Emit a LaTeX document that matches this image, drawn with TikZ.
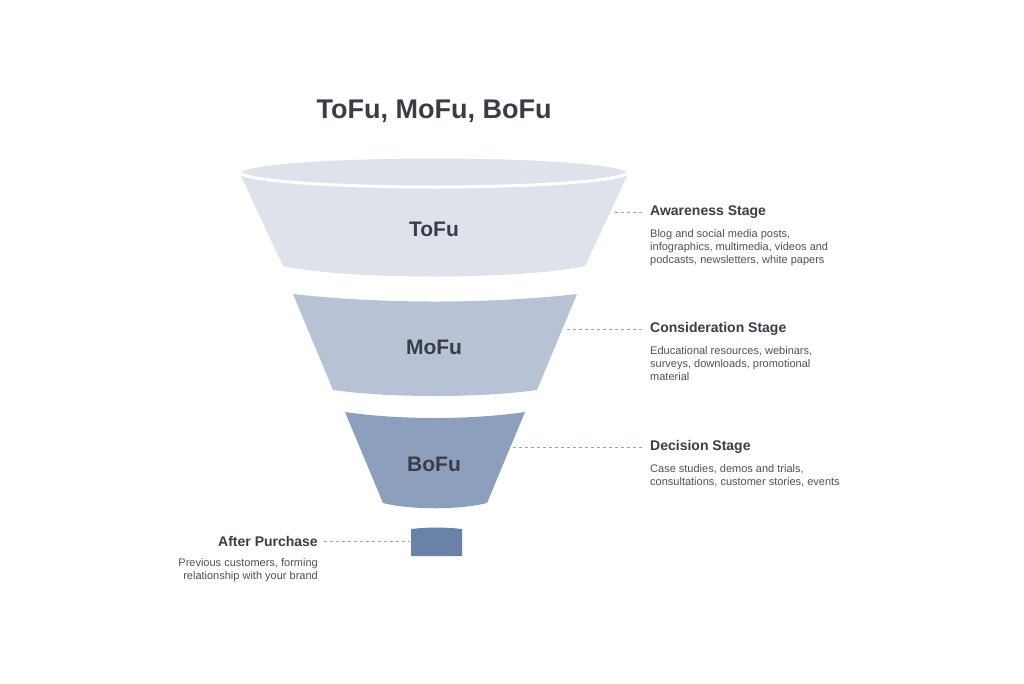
\documentclass[tikz,border=0pt]{standalone}
\usepackage{fontspec}
\setmainfont{Liberation Sans}
\definecolor{tofucol}{HTML}{DDE2EB}
\definecolor{mofucol}{HTML}{B7C3D5}
\definecolor{bofucol}{HTML}{8C9FBD}
\definecolor{aftercol}{HTML}{6B82A8}
\definecolor{inkcol}{HTML}{3A3D48}
\definecolor{dashcol}{HTML}{9AA3B2}
\begin{document}
\begin{tikzpicture}
            [x=1pt,y=-1pt,
             stagename/.style={font=\bfseries\fontsize{14}{16}\selectfont,text=inkcol,anchor=west,inner sep=0pt},
             stagetext/.style={font=\fontsize{11}{13}\selectfont,text=inkcol!90,align=left,anchor=north west,inner sep=0pt},
             layer/.style={font=\bfseries\fontsize{21}{24}\selectfont,text=inkcol},
             link/.style={dashed,dashcol,thick}]
            \useasboundingbox (0,0) rectangle (1024,683);
            % the funnel
            \fill[tofucol] (241,176) -- (627,176) -- (585,266) .. controls (520,280) and (348,280) .. (283,266) -- cycle;
            \fill[tofucol,draw=white,line width=3pt] (434,172) ellipse [x radius=194, y radius=15];
            \fill[mofucol] (293,294) .. controls (380,304) and (490,304) .. (577,294) -- (537,390) .. controls (480,398) and (390,398) .. (333,390) -- cycle;
            \fill[bofucol] (345,412) .. controls (400,420) and (470,420) .. (525,412) -- (487,503) .. controls (460,510) and (410,510) .. (383,503) -- cycle;
            \fill[aftercol] (411,529) .. controls (430,527) and (443,527) .. (462,529) -- (462,556) -- (411,556) -- cycle;
            \node[font=\bfseries\fontsize{27}{30}\selectfont,text=inkcol] (title) at (434,111) {ToFu, MoFu, BoFu};
            \node[layer] (tofu) at (434,229) {ToFu};
            \node[layer] (mofu) at (434,347) {MoFu};
            \node[layer] (bofu) at (434,464) {BoFu};
            \coordinate (after) at (409,541);
            % stage labels
            \node[stagename] (aware) at (650,212) {Awareness Stage};
            \node[stagetext] at (650,229) {Blog and social media posts,\\infographics, multimedia, videos and\\podcasts, newsletters, white papers};
            \node[stagename] (consid) at (650,329) {Consideration Stage};
            \node[stagetext] at (650,346) {Educational resources, webinars,\\surveys, downloads, promotional\\material};
            \node[stagename] (decide) at (650,447) {Decision Stage};
            \node[stagetext] at (650,464) {Case studies, demos and trials,\\consultations, customer stories, events};
            \node[stagename,anchor=east] (purch) at (318,541) {After Purchase};
            \node[stagetext,anchor=north east,align=right] at (318,558) {Previous customers, forming\\relationship with your brand};
            % connectors
            \draw[link] (aware.west) ++(-8,0) -- (615,212);
            \draw[link] (consid.west) ++(-8,0) -- (565,329);
            \draw[link] (decide.west) ++(-8,0) -- (511,447);
            \draw[link] (purch.east) ++(6,0) -- (after);
        \end{tikzpicture}
\end{document}
